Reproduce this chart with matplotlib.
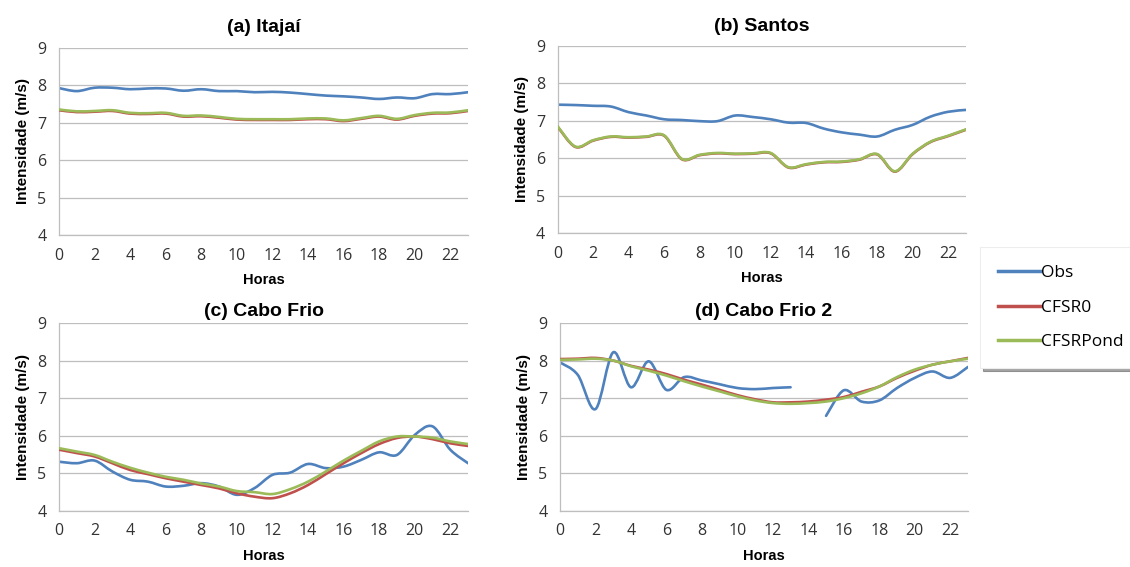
import matplotlib
matplotlib.use("Agg")
import matplotlib.pyplot as plt
import numpy as np
from matplotlib.path import Path
from matplotlib.patches import PathPatch
from matplotlib.lines import Line2D

# ---------------------------------------------------------------------------
# Hourly mean wind speed (m/s)
# ---------------------------------------------------------------------------
hours = np.arange(24)

itajai_obs = [7.92, 7.84, 7.93, 7.93, 7.89, 7.91, 7.91, 7.85, 7.89, 7.84, 7.84, 7.81,
              7.82, 7.80, 7.76, 7.72, 7.70, 7.67, 7.63, 7.67, 7.65, 7.76, 7.76, 7.81]
itajai_cfsr0 = [7.33, 7.28, 7.29, 7.31, 7.24, 7.23, 7.24, 7.16, 7.17, 7.13, 7.08, 7.07,
                7.07, 7.07, 7.09, 7.09, 7.04, 7.10, 7.16, 7.08, 7.18, 7.24, 7.25, 7.31]
itajai_pond = [7.35, 7.30, 7.31, 7.33, 7.26, 7.25, 7.26, 7.18, 7.19, 7.15, 7.10, 7.09,
               7.09, 7.09, 7.11, 7.11, 7.06, 7.12, 7.18, 7.10, 7.20, 7.26, 7.27, 7.33]

santos_obs = [7.43, 7.42, 7.40, 7.38, 7.23, 7.14, 7.04, 7.02, 6.99, 6.99, 7.14, 7.10,
              7.04, 6.95, 6.94, 6.79, 6.69, 6.63, 6.58, 6.76, 6.89, 7.11, 7.24, 7.29]
santos_cfsr0 = [6.84, 6.30, 6.47, 6.57, 6.55, 6.57, 6.60, 5.97, 6.08, 6.13, 6.11, 6.12,
                6.13, 5.75, 5.83, 5.89, 5.90, 5.96, 6.10, 5.64, 6.11, 6.43, 6.59, 6.76]
santos_pond = [6.85, 6.31, 6.48, 6.58, 6.56, 6.58, 6.61, 5.98, 6.09, 6.14, 6.12, 6.13,
               6.14, 5.76, 5.84, 5.90, 5.91, 5.97, 6.11, 5.65, 6.12, 6.44, 6.60, 6.77]

cabofrio_obs = [5.31, 5.27, 5.34, 5.05, 4.83, 4.78, 4.65, 4.67, 4.74, 4.65, 4.43, 4.61,
                4.96, 5.02, 5.25, 5.14, 5.18, 5.36, 5.56, 5.49, 6.02, 6.25, 5.63, 5.27]
cabofrio_cfsr0 = [5.63, 5.54, 5.45, 5.27, 5.09, 4.98, 4.87, 4.78, 4.69, 4.60, 4.47, 4.38,
                  4.34, 4.47, 4.69, 4.98, 5.27, 5.54, 5.78, 5.94, 5.98, 5.91, 5.80, 5.73]
cabofrio_pond = [5.67, 5.58, 5.49, 5.31, 5.15, 5.02, 4.91, 4.83, 4.73, 4.65, 4.53, 4.50,
                 4.45, 4.58, 4.78, 5.05, 5.34, 5.60, 5.85, 5.98, 5.98, 5.95, 5.85, 5.78]

# no observation at 14h
cabofrio2_obs = [7.95, 7.62, 6.71, 8.22, 7.29, 7.98, 7.22, 7.56, 7.47, 7.37, 7.27, 7.24,
                 7.27, 7.29, np.nan, 6.53, 7.21, 6.91, 6.94, 7.27, 7.54, 7.71, 7.54, 7.83]
cabofrio2_cfsr0 = [8.04, 8.05, 8.07, 8.00, 7.86, 7.76, 7.64, 7.49, 7.36, 7.22, 7.08, 6.97,
                   6.89, 6.89, 6.91, 6.96, 7.03, 7.17, 7.31, 7.54, 7.73, 7.89, 7.98, 8.07]
cabofrio2_pond = [8.02, 8.03, 8.05, 8.00, 7.85, 7.73, 7.60, 7.45, 7.31, 7.18, 7.05, 6.94,
                  6.87, 6.85, 6.87, 6.91, 7.00, 7.13, 7.31, 7.56, 7.76, 7.89, 7.98, 8.05]

titles = ["(a) Itajaí", "(b) Santos", "(c) Cabo Frio", "(d) Cabo Frio 2"]
series_names = ["Obs", "CFSR0", "CFSRPond"]
colors = ["#4F81BD", "#C0504D", "#9BBB59"]

panels = [
    (itajai_obs, itajai_cfsr0, itajai_pond),
    (santos_obs, santos_cfsr0, santos_pond),
    (cabofrio_obs, cabofrio_cfsr0, cabofrio_pond),
    (cabofrio2_obs, cabofrio2_cfsr0, cabofrio2_pond),
]

# axes boxes in figure fraction [left, bottom, width, height]
boxes = [
    [0.0522, 0.5855, 0.3620, 0.3305],
    [0.4935, 0.5890, 0.3613, 0.3300],
    [0.0522, 0.0988, 0.3620, 0.3316],
    [0.4956, 0.0988, 0.3610, 0.3316],
]
title_pads = [11, 11, 5, 5]


def smooth_path(x, y):
    """Cubic Bezier path through the points (Excel-style smoothed line).
    NaNs split the curve into separate pieces."""
    x = np.asarray(x, float)
    y = np.asarray(y, float)
    verts, codes = [], []
    idx = np.where(~np.isnan(y))[0]
    runs = np.split(idx, np.where(np.diff(idx) != 1)[0] + 1)
    for run in runs:
        if len(run) < 2:
            continue
        px, py = x[run], y[run]
        n = len(px)
        verts.append((px[0], py[0]))
        codes.append(Path.MOVETO)
        for i in range(n - 1):
            i0 = max(i - 1, 0)
            i3 = min(i + 2, n - 1)
            c1 = (px[i] + (px[i + 1] - px[i0]) / 6, py[i] + (py[i + 1] - py[i0]) / 6)
            c2 = (px[i + 1] - (px[i3] - px[i]) / 6, py[i + 1] - (py[i3] - py[i]) / 6)
            verts += [c1, c2, (px[i + 1], py[i + 1])]
            codes += [Path.CURVE4] * 3
    return Path(verts, codes)


fig = plt.figure(figsize=(11.3, 5.67), dpi=100)
fig.patch.set_facecolor("white")

for box, title, data, tpad in zip(boxes, titles, panels, title_pads):
    ax = fig.add_axes(box)
    # series drawn in order: Obs, CFSR0, CFSRPond on top
    for z, (vals, col) in enumerate(zip(data, colors)):
        ax.add_patch(PathPatch(smooth_path(hours, vals), facecolor="none",
                               edgecolor=col, lw=1.9, zorder=2 + z,
                               capstyle="round", joinstyle="round"))
    ax.set_xlim(0, 23)
    ax.set_ylim(4, 9)
    ax.set_xticks(np.arange(0, 23, 2))
    ax.set_yticks(np.arange(4, 10, 1))
    ax.grid(axis="y", color="#BEBEBE", lw=0.9)
    ax.set_axisbelow(True)
    for side in ["top", "right"]:
        ax.spines[side].set_visible(False)
    for side in ["left", "bottom"]:
        ax.spines[side].set_color("#BEBEBE")
        ax.spines[side].set_linewidth(0.9)
    ax.tick_params(length=0, labelsize=11.5, colors="#333333")
    ax.tick_params(axis="x", pad=9)
    ax.tick_params(axis="y", pad=9)
    for lab in ax.get_xticklabels() + ax.get_yticklabels():
        lab.set_family("Open Sans")
    ax.set_title(title, fontsize=14, fontweight="bold", family="Liberation Sans", pad=tpad)
    ax.set_xlabel("Horas", fontsize=10.5, fontweight="bold", family="Liberation Sans",
                  labelpad=7)
    ax.set_ylabel("Intensidade (m/s)", fontsize=11, fontweight="bold",
                  family="Liberation Sans", labelpad=5)

handles = [Line2D([0], [0], color=c, lw=2.5) for c in colors]
leg = fig.legend(handles, series_names, loc="upper left",
                 bbox_to_anchor=(980 / 1130, 1 - 247 / 567),
                 frameon=True, fancybox=False, shadow=True,
                 handlelength=2.4, handletextpad=0.05, labelspacing=1.05,
                 borderpad=1.05, borderaxespad=0,
                 prop={"family": "Open Sans", "size": 12.5})
leg.get_frame().set_edgecolor("#EDEDED")
leg.get_frame().set_linewidth(0.8)

fig.savefig("out.png", dpi=100)
